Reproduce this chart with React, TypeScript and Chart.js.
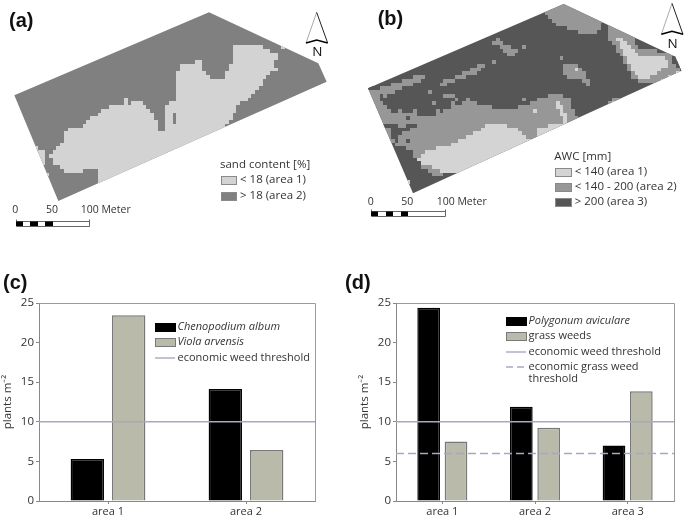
import React, { useEffect, useRef } from "react";
import { Chart, registerables } from "chart.js";

Chart.register(...registerables);

const SANS = "'Open Sans', sans-serif";
const BOLD = "bold 20px 'Liberation Sans', Arial, sans-serif";
const TEXT = "#333333";
const BLACK = "#000000";
const GREY_BAR = "#b9baa9";
const GREY_EDGE = "#787878";
const LINE = "#a8a8c6";

// --- bar charts ---
const categoriesC = ["area 1", "area 2"];
const chenopodium = [5.3, 14.15];
const viola = [23.45, 6.45];
const thresholdC = 10;
const categoriesD = ["area 1", "area 2", "area 3"];
const polygonum = [24.4, 11.9, 7.0];
const grassWeeds = [7.5, 9.25, 13.85];
const thresholdD = 10;
const grassThresholdD = 6;
const yTicks = [0, 5, 10, 15, 20, 25];

// --- map (a), in map units (1/3 px) ---
const CELL = 11.25;
const fieldA = [[627, 37], [955, 190], [980, 245], [175, 603], [43, 286]];
const sandLow = [
  [290, 507], [245, 507], [245, 517], [190, 517], [170, 490], [155, 490], [150, 462], [165, 445], [185, 425], [200, 390],
  [235, 380], [260, 370], [280, 350], [300, 335], [315, 322], [365, 315], [372, 290], [383, 290], [385, 312], [405, 300],
  [420, 305], [445, 325], [462, 350], [470, 372], [475, 392], [498, 392], [498, 312], [520, 307], [530, 290], [533, 222],
  [545, 187], [590, 187], [593, 175], [603, 175], [610, 210], [630, 228], [650, 242], [670, 240], [682, 215], [693, 190],
  [695, 145], [720, 130], [785, 130], [800, 150], [830, 160], [830, 175], [822, 200], [845, 205], [815, 212], [795, 235],
  [780, 262], [750, 290], [720, 310], [700, 340], [690, 360], [668, 385], [640, 420], [300, 580], [290, 560],
];
const sandPatchW = [[105, 440], [125, 450], [140, 462], [130, 480], [133, 495], [120, 490]];
const sandHole = [[520, 335], [532, 335], [532, 368], [520, 368]];
const sandCellsLow = [[146, 521], [850, 146]];

// --- map (b), in map units (1/3 px) ---
const fieldB = [[665, 12], [1000, 170], [1018, 212], [213, 580], [78, 265]];
const awcMidMain = [
  [60, 265], [95, 270], [124, 260], [169, 245], [199, 232], [249, 225], [244, 240], [209, 255], [154, 275], [134, 285],
  [114, 300], [129, 310], [134, 330], [174, 335], [259, 350], [304, 335], [329, 315], [364, 310], [369, 295], [379, 295],
  [414, 315], [469, 325], [509, 330], [569, 305], [584, 300], [629, 285], [654, 280], [684, 300], [699, 340], [709, 355],
  [700, 420], [404, 495], [324, 515], [279, 530], [264, 515], [239, 500], [224, 475], [204, 450], [169, 435], [120, 420],
];
const awcMidTop = [[594, 45], [666, 0], [800, 60], [782, 68], [774, 95], [714, 100], [679, 85], [634, 70], [614, 50]];
const awcMidNE = [
  [809, 60], [884, 95], [879, 125], [894, 150], [954, 152], [1004, 165], [1030, 215], [964, 250], [894, 250], [864, 225],
  [839, 175], [814, 130], [796, 115], [796, 95],
];
const awcMidStrip1 = [[295, 262], [300, 245], [350, 225], [395, 200], [428, 190], [425, 205], [390, 225], [345, 240], [310, 258]];
const awcMidStrip2 = [[289, 278], [334, 278], [349, 300], [309, 295]];
const awcMidBlob1 = [[455, 130], [470, 115], [490, 135], [525, 145], [530, 160], [495, 170], [480, 145]];
const awcMidBlob2 = [[659, 195], [699, 190], [729, 215], [744, 260], [714, 235], [674, 235]];
const awcMidEdge = [[796, 305], [844, 285], [844, 305], [799, 325]];
const awcLowMain = [
  [224, 475], [249, 455], [319, 435], [369, 415], [424, 380], [441, 365], [454, 375], [469, 365], [489, 375], [519, 380],
  [529, 390], [554, 415], [579, 420], [559, 440], [409, 510], [304, 515], [284, 510], [264, 500], [239, 495],
];
const awcLowRight = [[579, 380], [634, 375], [669, 365], [640, 320], [635, 305], [655, 305], [668, 335], [680, 350], [672, 385], [585, 430]];
const awcLowNE = [
  [821, 115], [844, 115], [864, 135], [889, 165], [954, 165], [974, 180], [974, 200], [949, 215], [909, 240], [884, 225],
  [869, 205], [854, 180], [839, 150],
];
const awcLowEdge = [[959, 240], [1025, 205], [1030, 225], [964, 255]];
const awcHighMottle = [
  [139, 375], [164, 370], [179, 385], [194, 375], [224, 370], [219, 385], [199, 390], [174, 405], [169, 435], [144, 405],
];
const awcHighCorner = [[989, 165], [1004, 170], [1022, 212], [999, 205]];
const awcHighTip = [[75, 255], [110, 255], [100, 275], [80, 272]];
const awcHighCells = [[194, 420], [194, 358], [130, 380], [160, 395], [117, 290]];
const awcMidCells = [[269, 270], [281, 307], [284, 332], [219, 332], [334, 310], [547, 145], [458, 182], [662, 170], [547, 295], [179, 332]];
const awcLowCells = [[700, 207], [575, 333], [199, 545], [810, 312]];
const awcHighOnLow = [[640, 345]];

// --- scale bar tick labels ---
const scaleLabels = ["0", "50", "100 Meter"];

type Pt = number[];
type Layer = { pts: Pt[]; color: string; kind: "poly" | "cell" };

function inside(px: number, py: number, poly: Pt[]) {
  let hit = false;
  for (let i = 0, j = poly.length - 1; i < poly.length; j = i++) {
    const [xi, yi] = poly[i];
    const [xj, yj] = poly[j];
    if (yi > py !== yj > py && px < ((xj - xi) * (py - yi)) / (yj - yi) + xi) hit = !hit;
  }
  return hit;
}

type MapSpec = {
  field: Pt[];
  base: string;
  layers: Layer[];
  panel: [string, number, number];
  north: number[];
  legendTitle: [string, number, number];
  legend: { label: string; color: string; y: number }[];
  legendX: [number, number, number];
  swatchH: number;
  scaleBar: { x0: number; x50: number; x100: number; top: number; labelY: number; labelXs: number[] };
};

function mapPlugin(spec: MapSpec) {
  return {
    id: "mapCells",
    beforeDatasetsDraw(chart: any) {
      const { ctx, scales } = chart;
      const X = (v: number) => scales.x.getPixelForValue(v);
      const Y = (v: number) => scales.y.getPixelForValue(v);
      ctx.save();
      ctx.beginPath();
      spec.field.forEach((p, i) => (i ? ctx.lineTo(X(p[0]), Y(p[1])) : ctx.moveTo(X(p[0]), Y(p[1]))));
      ctx.closePath();
      ctx.fillStyle = spec.base;
      ctx.fill();
      ctx.clip();
      const cellRect = (c: number, r: number) => {
        const x0 = Math.round(X(c * CELL));
        const x1 = Math.round(X((c + 1) * CELL));
        const y0 = Math.round(Y(r * CELL));
        const y1 = Math.round(Y((r + 1) * CELL));
        ctx.fillRect(x0, y0, x1 - x0, y1 - y0);
      };
      spec.layers.forEach((l) => {
        ctx.fillStyle = l.color;
        if (l.kind === "cell") {
          l.pts.forEach((p) => cellRect(Math.floor(p[0] / CELL), Math.floor(p[1] / CELL)));
          return;
        }
        for (let r = 0; r * CELL < 720; r++) {
          for (let c = 0; c * CELL < 1040; c++) {
            if (inside((c + 0.5) * CELL, (r + 0.5) * CELL, l.pts)) cellRect(c, r);
          }
        }
      });
      ctx.restore();
    },
    afterDraw(chart: any) {
      const { ctx, scales } = chart;
      const X = (v: number) => scales.x.getPixelForValue(v);
      const Y = (v: number) => scales.y.getPixelForValue(v);
      ctx.save();
      ctx.textBaseline = "alphabetic";
      // panel letter
      ctx.font = BOLD;
      ctx.fillStyle = "#111";
      ctx.fillText(spec.panel[0], X(spec.panel[1]), Y(spec.panel[2]));
      // north arrow
      const [ax, ay, lx, rx, by, ny] = spec.north;
      ctx.lineWidth = 1;
      ctx.strokeStyle = "#aaa";
      ctx.beginPath();
      ctx.moveTo(X(ax), Y(ay));
      ctx.lineTo(X(lx), Y(by));
      ctx.stroke();
      ctx.strokeStyle = "#222";
      ctx.beginPath();
      ctx.moveTo(X(ax), Y(ay));
      ctx.lineTo(X(rx), Y(by));
      ctx.stroke();
      ctx.strokeStyle = "#000";
      ctx.lineWidth = 1.6;
      ctx.beginPath();
      ctx.moveTo(X(lx), Y(by));
      ctx.lineTo(X(ax), Y(by - 9));
      ctx.lineTo(X(rx), Y(by));
      ctx.stroke();
      ctx.fillStyle = "#111";
      ctx.font = `13.5px ${SANS}`;
      ctx.textAlign = "center";
      ctx.fillText("N", X(ax + 2), Y(ny));
      ctx.textAlign = "left";
      // legend
      ctx.fillStyle = TEXT;
      ctx.font = `11.5px ${SANS}`;
      ctx.fillText(spec.legendTitle[0], X(spec.legendTitle[1]), Y(spec.legendTitle[2]));
      const [sx0, sx1, tx] = spec.legendX;
      spec.legend.forEach((e) => {
        ctx.fillStyle = e.color;
        ctx.strokeStyle = "#8a8a8a";
        ctx.lineWidth = 1;
        const x = Math.round(X(sx0)) + 0.5;
        const y = Math.round(Y(e.y - spec.swatchH / 2)) + 0.5;
        const w = Math.round(X(sx1) - X(sx0));
        const h = Math.round(Y(spec.swatchH) - Y(0));
        ctx.fillRect(x, y, w, h);
        ctx.strokeRect(x, y, w, h);
        ctx.fillStyle = TEXT;
        ctx.textBaseline = "middle";
        ctx.fillText(e.label, X(tx), Y(e.y));
        ctx.textBaseline = "alphabetic";
      });
      // scale bar
      const b = spec.scaleBar;
      ctx.font = `10.5px ${SANS}`;
      ctx.fillStyle = TEXT;
      scaleLabels.forEach((s, i) => ctx.fillText(s, X(b.labelXs[i]), Y(b.labelY)));
      const top = Math.round(Y(b.top)) + 0.5;
      const x0 = Math.round(X(b.x0)) + 0.5;
      const x100 = Math.round(X(b.x100)) + 0.5;
      ctx.strokeStyle = "#666";
      ctx.lineWidth = 1;
      ctx.beginPath();
      ctx.moveTo(x0, top - 2);
      ctx.lineTo(x0, top + 5);
      ctx.lineTo(x100, top + 5);
      ctx.lineTo(x100, top - 2);
      ctx.moveTo(x0, top);
      ctx.lineTo(x100, top);
      ctx.stroke();
      const step = (b.x50 - b.x0) / 5;
      ctx.fillStyle = "#000";
      [0, 2, 4].forEach((i) => {
        const a = Math.round(X(b.x0 + i * step));
        const e = Math.round(X(b.x0 + (i + 1) * step));
        ctx.fillRect(a, top, e - a, 4.5);
      });
      ctx.restore();
    },
  };
}

function mapConfig(spec: MapSpec, xMax: number) {
  return {
    type: "scatter",
    data: { datasets: spec.layers.map((l) => ({ data: l.pts.map((p) => ({ x: p[0], y: p[1] })), pointRadius: 0, showLine: false })) },
    options: {
      animation: false,
      responsive: false,
      events: [],
      layout: { padding: 0 },
      plugins: { legend: { display: false }, tooltip: { enabled: false } },
      scales: {
        x: { type: "linear", display: false, min: 0, max: xMax },
        y: { type: "linear", display: false, min: 0, max: 720, reverse: true },
      },
    },
    plugins: [mapPlugin(spec)],
  } as any;
}

const specA: MapSpec = {
  field: fieldA,
  base: "#808080",
  layers: [
    { pts: sandLow, color: "#d3d3d3", kind: "poly" },
    { pts: sandPatchW, color: "#d3d3d3", kind: "poly" },
    { pts: sandHole, color: "#808080", kind: "poly" },
    { pts: sandCellsLow, color: "#d3d3d3", kind: "cell" },
  ],
  panel: ["(a)", 27, 81],
  north: [950, 37, 918, 983, 129, 168],
  legendTitle: ["sand content [%]", 660, 505],
  legend: [
    { label: "< 18 (area 1)", color: "#d3d3d3", y: 540 },
    { label: "> 18 (area 2)", color: "#808080", y: 587 },
  ],
  legendX: [663, 708, 720],
  swatchH: 25,
  scaleBar: { x0: 47, x50: 158, x100: 268, top: 662, labelY: 640, labelXs: [37, 138, 242] },
};

const specB: MapSpec = {
  field: fieldB,
  base: "#565656",
  layers: [
    { pts: awcMidMain, color: "#979797", kind: "poly" },
    { pts: awcMidTop, color: "#979797", kind: "poly" },
    { pts: awcMidNE, color: "#979797", kind: "poly" },
    { pts: awcMidStrip1, color: "#979797", kind: "poly" },
    { pts: awcMidStrip2, color: "#979797", kind: "poly" },
    { pts: awcMidBlob1, color: "#979797", kind: "poly" },
    { pts: awcMidBlob2, color: "#979797", kind: "poly" },
    { pts: awcMidEdge, color: "#979797", kind: "poly" },
    { pts: awcMidCells, color: "#979797", kind: "cell" },
    { pts: awcHighMottle, color: "#565656", kind: "poly" },
    { pts: awcHighCorner, color: "#565656", kind: "poly" },
    { pts: awcHighTip, color: "#565656", kind: "poly" },
    { pts: awcHighCells, color: "#565656", kind: "cell" },
    { pts: awcLowMain, color: "#d4d4d4", kind: "poly" },
    { pts: awcLowRight, color: "#d4d4d4", kind: "poly" },
    { pts: awcLowNE, color: "#d4d4d4", kind: "poly" },
    { pts: awcLowEdge, color: "#d4d4d4", kind: "poly" },
    { pts: awcLowCells, color: "#d4d4d4", kind: "cell" },
    { pts: awcHighOnLow, color: "#979797", kind: "cell" },
  ],
  panel: ["(b)", 107, 75],
  north: [990, 10, 958, 1023, 103, 143],
  legendTitle: ["AWC [mm]", 637, 480],
  legend: [
    { label: "< 140 (area 1)", color: "#d4d4d4", y: 515 },
    { label: "< 140 - 200 (area 2)", color: "#979797", y: 561 },
    { label: "> 200 (area 3)", color: "#565656", y: 606 },
  ],
  legendX: [640, 687, 698],
  swatchH: 24,
  scaleBar: { x0: 87, x50: 198, x100: 309, top: 634, labelY: 614, labelXs: [77, 178, 284] },
};

type LegendRow =
  | { kind: "bar"; label: string; y: number; fill: string; edge: string; italic: boolean }
  | { kind: "line"; label: string[]; y: number; dash: number[] };

function barPlugin(panel: [string, number, number], rows: LegendRow[], sx: [number, number], tx: number) {
  return {
    id: "barExtras",
    afterDraw(chart: any) {
      const { ctx, chartArea: a } = chart;
      ctx.save();
      // plot frame
      ctx.strokeStyle = "#9a9a9a";
      ctx.lineWidth = 1;
      ctx.beginPath();
      ctx.moveTo(Math.round(a.left) + 0.5, Math.round(a.top) + 0.5);
      ctx.lineTo(Math.round(a.right) + 0.5, Math.round(a.top) + 0.5);
      ctx.lineTo(Math.round(a.right) + 0.5, Math.round(a.bottom) + 0.5);
      ctx.stroke();
      ctx.font = BOLD;
      ctx.fillStyle = "#111";
      ctx.textBaseline = "alphabetic";
      ctx.fillText(panel[0], panel[1], panel[2]);
      // legend
      rows.forEach((r) => {
        if (r.kind === "bar") {
          ctx.fillStyle = r.fill;
          ctx.strokeStyle = r.edge;
          ctx.lineWidth = 1;
          ctx.fillRect(sx[0] + 0.5, r.y - 3.5, sx[1] - sx[0], 8);
          ctx.strokeRect(sx[0] + 0.5, r.y - 3.5, sx[1] - sx[0], 8);
          ctx.fillStyle = TEXT;
          ctx.font = `${r.italic ? "italic " : ""}11px ${SANS}`;
          ctx.textBaseline = "middle";
          ctx.fillText(r.label, tx, r.y);
        } else {
          ctx.strokeStyle = LINE;
          ctx.lineWidth = 1.4;
          ctx.setLineDash(r.dash);
          ctx.beginPath();
          ctx.moveTo(sx[0], r.y);
          ctx.lineTo(sx[1], r.y);
          ctx.stroke();
          ctx.setLineDash([]);
          ctx.fillStyle = TEXT;
          ctx.font = `11px ${SANS}`;
          ctx.textBaseline = "middle";
          r.label.forEach((s, i) => ctx.fillText(s, tx, r.y + i * 12));
        }
      });
      ctx.restore();
    },
  };
}

function barConfig(
  categories: string[],
  black: number[],
  grey: number[],
  lines: { value: number; dash: number[] }[],
  catPct: number,
  barPct: number,
  padding: { left: number; right: number; top: number; bottom: number },
  plugin: any
) {
  const bar = (data: number[], fill: string, edge: string) => ({
    type: "bar",
    data,
    backgroundColor: fill,
    borderColor: edge,
    borderWidth: 1.5,
    categoryPercentage: catPct,
    barPercentage: barPct,
    order: 2,
  });
  return {
    type: "bar",
    data: {
      labels: categories,
      datasets: [
        bar(black, BLACK, BLACK),
        bar(grey, GREY_BAR, GREY_EDGE),
        ...lines.map((l) => ({
          type: "line",
          parsing: false,
          // a threshold spans the whole category axis, edge to edge
          data: [{ x: -0.5, y: l.value }, { x: categories.length - 0.5, y: l.value }],
          borderColor: LINE,
          borderWidth: 1.4,
          borderDash: l.dash,
          pointRadius: 0,
          order: 1,
        })),
      ],
    },
    options: {
      animation: false,
      responsive: false,
      events: [],
      layout: { padding },
      plugins: { legend: { display: false }, tooltip: { enabled: false } },
      scales: {
        x: {
          type: "category",
          offset: true,
          grid: { display: true, drawOnChartArea: false, offset: false, color: "#888", tickLength: 3 },
          border: { color: "#888" },
          ticks: { color: TEXT, font: { family: "'Open Sans'", size: 11 }, padding: 1, maxRotation: 0 },
          afterFit: (s: any) => { s.height = 17; },
        },
        y: {
          type: "linear",
          min: 0,
          max: 25,
          afterBuildTicks: (s: any) => { s.ticks = yTicks.map((value) => ({ value })); },
          grid: { display: true, drawOnChartArea: false, color: "#888", tickLength: 3 },
          border: { color: "#888" },
          ticks: { color: TEXT, font: { family: "'Open Sans'", size: 11.5 }, padding: 2 },
          title: { display: true, text: "plants m⁻²", color: TEXT, font: { family: "'Open Sans'", size: 11.5 }, padding: { top: 1, bottom: 0 } },
          afterFit: (s: any) => { s.width = 39; },
        },
      },
    },
    plugins: [plugin],
  } as any;
}

const legendC: LegendRow[] = [
  { kind: "bar", label: "Chenopodium album", y: 62, fill: BLACK, edge: BLACK, italic: true },
  { kind: "bar", label: "Viola arvensis", y: 77, fill: GREY_BAR, edge: GREY_EDGE, italic: true },
  { kind: "line", label: ["economic weed threshold"], y: 93, dash: [] },
];
const legendD: LegendRow[] = [
  { kind: "bar", label: "Polygonum aviculare", y: 56, fill: BLACK, edge: BLACK, italic: true },
  { kind: "bar", label: "grass weeds", y: 71, fill: GREY_BAR, edge: GREY_EDGE, italic: false },
  { kind: "line", label: ["economic weed threshold"], y: 87, dash: [] },
  { kind: "line", label: ["economic grass weed", "threshold"], y: 102, dash: [7, 4] },
];

function Canvas({ make, style }: { make: () => any; style: React.CSSProperties }) {
  const ref = useRef<HTMLCanvasElement>(null);
  useEffect(() => {
    const chart = new Chart(ref.current as HTMLCanvasElement, make());
    return () => chart.destroy();
  }, [make]);
  return <canvas ref={ref} width={style.width as number} height={style.height as number} style={{ position: "absolute", display: "block", ...style }} />;
}

const makeA = () => mapConfig(specA, 1026);
const makeB = () => mapConfig(specB, 1029);
const makeC = () =>
  barConfig(categoriesC, chenopodium, viola, [{ value: thresholdC, dash: [] }], 0.6, 0.806,
    { left: 0, right: 27, top: 38, bottom: 0 },
    barPlugin(["(c)", 3, 24], legendC, [155, 175], 177.5));
const makeD = () =>
  barConfig(categoriesD, polygonum, grassWeeds, [{ value: thresholdD, dash: [] }, { value: grassThresholdD, dash: [8, 4] }], 0.59, 0.83,
    { left: 15, right: 11, top: 38, bottom: 0 },
    barPlugin(["(d)", 3, 24], legendD, [164, 184], 186.5));

export default function App() {
  return (
    <div style={{ position: "absolute", left: 0, top: 0, width: 685, height: 518, background: "#fff", overflow: "hidden" }}>
      <Canvas make={makeA} style={{ left: 0, top: 0, width: 342, height: 240 }} />
      <Canvas make={makeB} style={{ left: 342, top: 0, width: 343, height: 240 }} />
      <Canvas make={makeC} style={{ left: 0, top: 265, width: 342, height: 253 }} />
      <Canvas make={makeD} style={{ left: 342, top: 265, width: 343, height: 253 }} />
    </div>
  );
}
